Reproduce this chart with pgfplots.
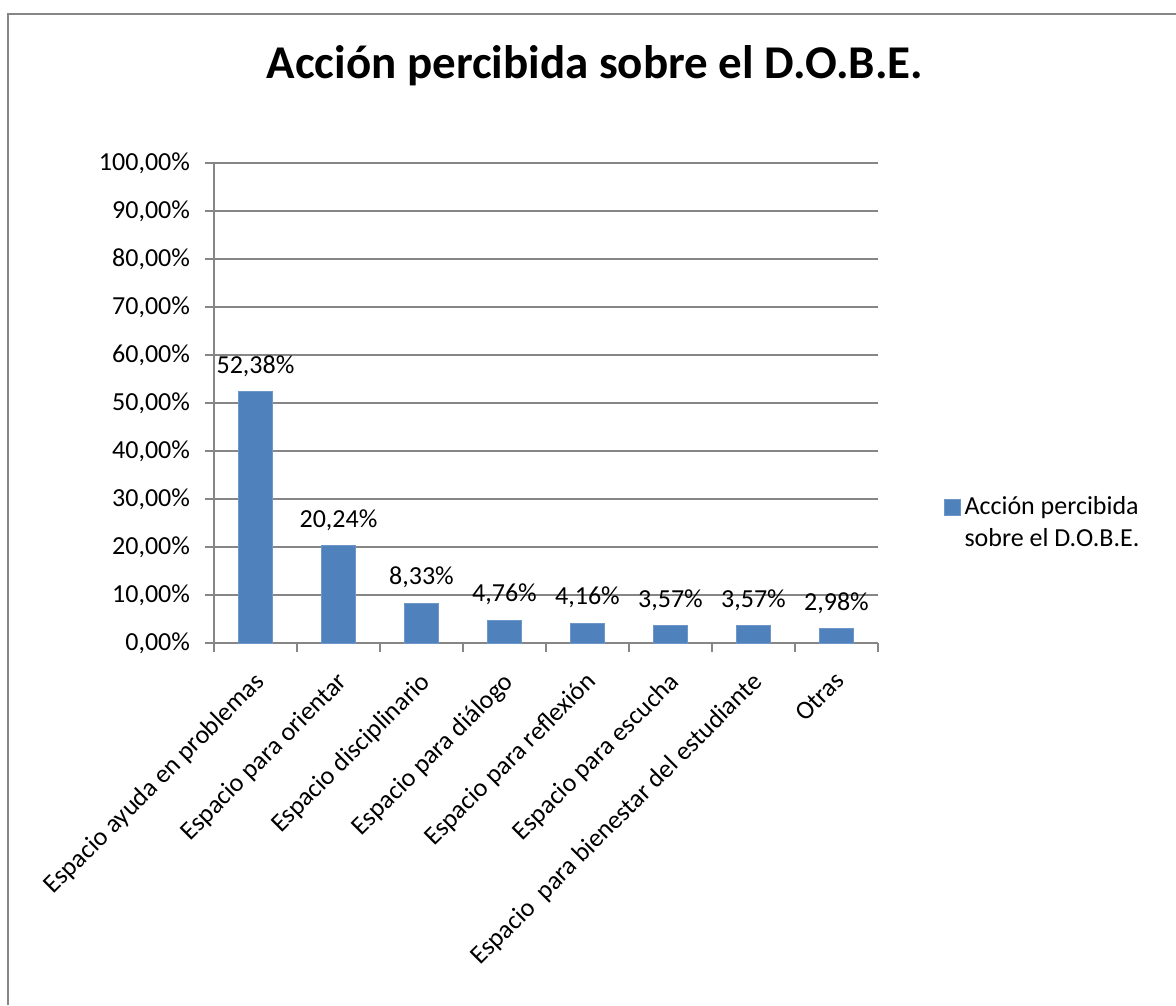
\documentclass[border=0pt]{standalone}
\usepackage{pgfplots}
\pgfplotsset{compat=1.18}
\usepackage{fontspec}
\setmainfont{Carlito}
\definecolor{barblue}{RGB}{79,129,189}
\definecolor{baredge}{RGB}{110,150,200}
\definecolor{gridgray}{RGB}{134,134,134}
\begin{document}
\begin{tikzpicture}
\useasboundingbox (0pt,0pt) rectangle (588pt,-502.5pt);
\draw[gridgray, line width=0.7pt] (4pt,-502.5pt) -- (4pt,-7pt) -- (588pt,-7pt);
\node[font=\bfseries\fontsize{23.5}{28}\selectfont, anchor=base, inner sep=0pt] at (297.5pt,-39.5pt) {Acción percibida sobre el D.O.B.E.};
\begin{axis}[
  at={(107pt,-321.5pt)}, anchor=south west,
  scale only axis, width=332pt, height=240pt,
  ybar, bar width=17pt,
  xmin=-0.5, xmax=7.5, ymin=0, ymax=100,
  axis x line=bottom, axis y line=left,
  axis line style={-, gridgray, line width=0.7pt},
  ytick={0,10,...,100},
  yticklabels={{0,00\%},{10,00\%},{20,00\%},{30,00\%},{40,00\%},{50,00\%},{60,00\%},{70,00\%},{80,00\%},{90,00\%},{100,00\%}},
  ymajorgrids, grid style={gridgray, line width=0.7pt},
  xtick={0,...,7},
  xticklabels={Espacio ayuda en problemas, Espacio para orientar, Espacio disciplinario, Espacio para diálogo, Espacio para reflexión, Espacio para escucha, Espacio\ \ para bienestar del estudiante, Otras},
  minor xtick={-0.5,0.5,...,7.5},
  tick align=outside,
  major x tick style={draw=none},
  minor tick length=4.5pt, major tick length=4.5pt,
  tick style={gridgray, line width=0.7pt},
  xticklabel style={rotate=45, anchor=north east, font=\fontsize{13}{15}\selectfont, yshift=-2pt, xshift=-4pt},
  yticklabel style={font=\fontsize{13}{15}\selectfont, xshift=-4pt},
  point meta=explicit symbolic,
  nodes near coords,
  nodes near coords style={font=\fontsize{13}{15}\selectfont, anchor=south, yshift=4pt, text=black},
  legend style={draw=none, at={(1.089,0.25)}, anchor=west, font=\fontsize{13}{16}\selectfont, nodes={align=left}},
  legend image code/.code={\draw[#1, draw=baredge, fill=barblue] (0pt,4pt) rectangle (8pt,12pt);},
]
\addplot[fill=barblue, draw=baredge, line width=0.5pt] coordinates {
(0,52.38) [52,38\%]
(1,20.24) [20,24\%]
(2,8.33) [8,33\%]
(3,4.76) [4,76\%]
(4,4.16) [4,16\%]
(5,3.57) [3,57\%]
(6,3.57) [3,57\%]
(7,2.98) [2,98\%]
};
\addlegendentry{Acción percibida\\sobre el D.O.B.E.}
\end{axis}
\end{tikzpicture}
\end{document}
